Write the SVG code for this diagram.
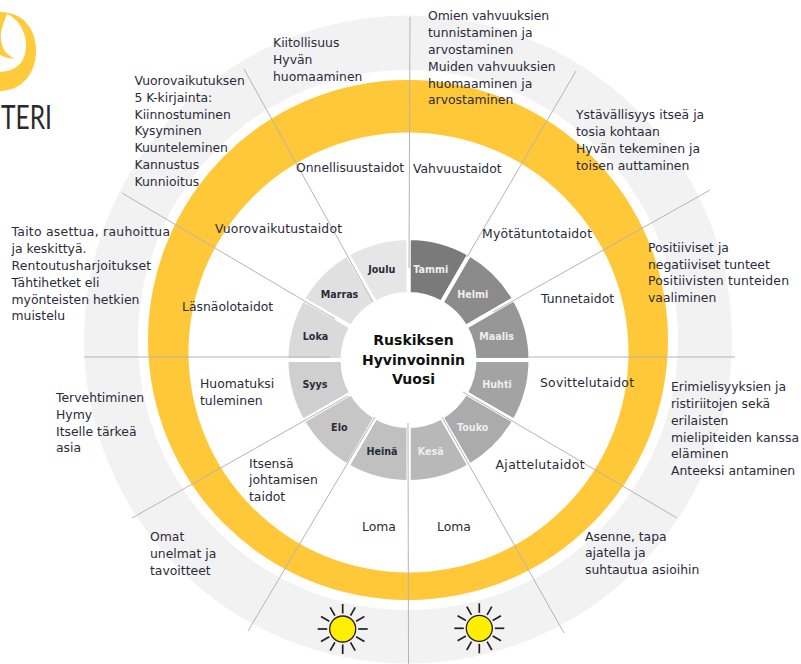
<svg xmlns="http://www.w3.org/2000/svg" width="801" height="664" viewBox="0 0 801 664">
<style>
text{font-family:"DejaVu Sans","Noto Sans",sans-serif;font-size:12.4px;fill:#2b2b3a}
.m{font-size:9.6px;font-weight:bold;text-anchor:middle;fill:#2b2b3a}
.w{fill:#eee}
.c{font-size:14px;font-weight:bold;text-anchor:middle;fill:#111}
.seg{stroke:#fff;stroke-width:4}
#connectors line{stroke:#b4b4b4;stroke-width:1}
.ray{stroke:#231f20;stroke-width:1.7;fill:none}
</style>
<defs>
<g id="sun">
<g class="ray">
<line x1="0" y1="-15.5" x2="0" y2="-25"/><line x1="0" y1="15.5" x2="0" y2="25"/><line x1="-15.5" y1="0" x2="-25" y2="0"/><line x1="15.5" y1="0" x2="25" y2="0"/>
<line x1="7.8" y1="-13.4" x2="12.5" y2="-21.7"/><line x1="13.4" y1="-7.8" x2="21.7" y2="-12.5"/><line x1="13.4" y1="7.8" x2="21.7" y2="12.5"/><line x1="7.8" y1="13.4" x2="12.5" y2="21.7"/>
<line x1="-7.8" y1="13.4" x2="-12.5" y2="21.7"/><line x1="-13.4" y1="7.8" x2="-21.7" y2="12.5"/><line x1="-13.4" y1="-7.8" x2="-21.7" y2="-12.5"/><line x1="-7.8" y1="-13.4" x2="-12.5" y2="-21.7"/>
</g>
<circle r="13" fill="#ffee00" stroke="#231f20" stroke-width="1.3"/>
</g>
</defs>
<rect width="801" height="664" fill="#fff"/>
<g id="logo">
<path d="M0 12C24 12 36 30 36 51C36 75 20 91 0 91L0 71.700C14 72 25 64 26 47C27 34 19 19 7 14C3 24 0 32 1 40C2 50 8 56 15 58.500C9 59 4 57 0 55Z" fill="#ffcb3a"/>
<text x="1" y="129" textLength="51" lengthAdjust="spacingAndGlyphs" style="font-family:'Lato','Open Sans',sans-serif;font-size:32px;fill:#2a2a2a">TERI</text>
</g>
<g id="outer-ring">
<path fill-rule="evenodd" fill="#f2f2f2" d="M84 339.500a324 324 0 1 0 648 0a324 324 0 1 0 -648 0ZM138 340a270 270 0 1 0 540 0a270 270 0 1 0 -540 0Z"/>
</g>
<g id="yellow-ring">
<path fill-rule="evenodd" fill="#ffc839" d="M148 340a260 260 0 1 0 520 0a260 260 0 1 0 -520 0ZM188.500 352.500a220 220 0 1 0 440 0a220 220 0 1 0 -440 0Z"/>
</g>
<g id="months">
<path class="seg" fill="#7a7a7a" d="M408.500 238A122 122 0 0 1 469.500 254.300L441.500 302.800A66 66 0 0 0 408.500 294Z"/>
<path class="seg" fill="#8b8b8b" d="M469.500 254.300A122 122 0 0 1 514.200 299L465.700 327A66 66 0 0 0 441.500 302.800Z"/>
<path class="seg" fill="#979797" d="M514.200 299A122 122 0 0 1 530.500 360L474.500 360A66 66 0 0 0 465.700 327Z"/>
<path class="seg" fill="#a3a3a3" d="M530.500 360A122 122 0 0 1 514.200 421L465.700 393A66 66 0 0 0 474.500 360Z"/>
<path class="seg" fill="#ababab" d="M514.200 421A122 122 0 0 1 469.500 465.700L441.500 417.200A66 66 0 0 0 465.700 393Z"/>
<path class="seg" fill="#b8b8b8" d="M469.500 465.700A122 122 0 0 1 408.500 482L408.500 426A66 66 0 0 0 441.500 417.200Z"/>
<path class="seg" fill="#c0c0c0" d="M408.500 482A122 122 0 0 1 347.500 465.700L375.500 417.200A66 66 0 0 0 408.500 426Z"/>
<path class="seg" fill="#c6c6c6" d="M347.500 465.700A122 122 0 0 1 302.800 421L351.300 393A66 66 0 0 0 375.500 417.200Z"/>
<path class="seg" fill="#cfcfcf" d="M302.800 421A122 122 0 0 1 286.500 360L342.500 360A66 66 0 0 0 351.300 393Z"/>
<path class="seg" fill="#dadada" d="M286.500 360A122 122 0 0 1 302.800 299L351.300 327A66 66 0 0 0 342.500 360Z"/>
<path class="seg" fill="#e0e0e0" d="M302.800 299A122 122 0 0 1 347.500 254.300L375.500 302.800A66 66 0 0 0 351.300 327Z"/>
<path class="seg" fill="#e6e6e6" d="M347.500 254.300A122 122 0 0 1 408.500 238L408.500 294A66 66 0 0 0 375.500 302.800Z"/>
<text class="m w" x="430.700" y="273">Tammi</text>
<text class="m w" x="472.700" y="297.700">Helmi</text>
<text class="m w" x="496.700" y="340">Maalis</text>
<text class="m w" x="497" y="388">Huhti</text>
<text class="m w" x="472.700" y="430.700">Touko</text>
<text class="m w" x="430.700" y="455">Kesä</text>
<text class="m" x="382" y="455">Heinä</text>
<text class="m" x="339.300" y="431">Elo</text>
<text class="m" x="315" y="388">Syys</text>
<text class="m" x="315.500" y="340">Loka</text>
<text class="m" x="339.500" y="297.700">Marras</text>
<text class="m" x="381.700" y="273">Joulu</text>
</g>
<g id="connectors">
<line x1="410" y1="17" x2="409" y2="268"/>
<line x1="408" y1="423" x2="408.500" y2="664"/>
<line x1="84" y1="357" x2="330" y2="357"/>
<line x1="529" y1="357" x2="735" y2="357"/>
<line x1="576" y1="71" x2="467" y2="257"/>
<line x1="710" y1="190" x2="493" y2="312"/>
<line x1="677" y1="518" x2="463" y2="392"/>
<line x1="564" y1="633" x2="442" y2="417"/>
<line x1="248" y1="631" x2="375" y2="417"/>
<line x1="132" y1="518" x2="348" y2="396"/>
<line x1="122" y1="193" x2="335" y2="319"/>
<line x1="244" y1="69" x2="373" y2="302"/>
</g>
<g id="center">
<text class="c" x="413.500" y="345">Ruskiksen</text>
<text class="c" x="413.500" y="364.500">Hyvinvoinnin</text>
<text class="c" x="413.500" y="384">Vuosi</text>
</g>
<use href="#sun" x="342.700" y="629"/>
<use href="#sun" x="479.300" y="628.300"/>
<g id="labels">
<text x="273" y="47">Kiitollisuus</text><text x="273" y="64">Hyvän</text><text x="273" y="81">huomaaminen</text>
<text x="134.500" y="85">Vuorovaikutuksen</text><text x="134.500" y="101.700">5 K-kirjainta:</text><text x="134.500" y="118.500">Kiinnostuminen</text><text x="134.500" y="135">Kysyminen</text><text x="134.500" y="152">Kuunteleminen</text><text x="134.500" y="168.600">Kannustus</text><text x="134.500" y="185.500">Kunnioitus</text>
<text x="11.500" y="236" textLength="158.500">Taito asettua, rauhoittua</text><text x="11.500" y="253">ja keskittyä.</text><text x="11.500" y="270" textLength="139.500">Rentoutusharjoitukset</text><text x="11.500" y="287">Tähtihetket eli</text><text x="11.500" y="303.500">myönteisten hetkien</text><text x="11.500" y="320">muistelu</text>
<text x="296" y="172">Onnellisuustaidot</text>
<text x="413" y="173">Vahvuustaidot</text>
<text x="215" y="233" textLength="127">Vuorovaikutustaidot</text>
<text x="182" y="311">Läsnäolotaidot</text>
<text x="428" y="20" textLength="121">Omien vahvuuksien</text><text x="428" y="37">tunnistaminen ja</text><text x="428" y="53.500">arvostaminen</text><text x="428" y="70.500">Muiden vahvuuksien</text><text x="428" y="87.500">huomaaminen ja</text><text x="428" y="104">arvostaminen</text>
<text x="576" y="119">Ystävällisyys itseä ja</text><text x="576" y="136">tosia kohtaan</text><text x="576" y="152.700">Hyvän tekeminen ja</text><text x="576" y="170">toisen auttaminen</text>
<text x="482" y="238" textLength="110">Myötätuntotaidot</text>
<text x="541" y="303">Tunnetaidot</text>
<text x="648" y="251.700">Positiiviset ja</text><text x="648" y="268.700">negatiiviset tunteet</text><text x="648" y="285" textLength="141">Positiivisten tunteiden</text><text x="648" y="302">vaaliminen</text>
<text x="540" y="386.700" textLength="94">Sovittelutaidot</text>
<text x="671" y="391">Erimielisyyksien ja</text><text x="671" y="408">ristiriitojen sekä</text><text x="671" y="424.600">erilaisten</text><text x="671" y="441.600" textLength="128">mielipiteiden kanssa</text><text x="671" y="458">eläminen</text><text x="671" y="475">Anteeksi antaminen</text>
<text x="495.500" y="469" textLength="89">Ajattelutaidot</text>
<text x="585" y="540.700">Asenne, tapa</text><text x="585" y="557">ajatella ja</text><text x="585" y="574">suhtautua asioihin</text>
<text x="437" y="531">Loma</text>
<text x="362" y="531">Loma</text>
<text x="200" y="387.700">Huomatuksi</text><text x="200" y="405">tuleminen</text>
<text x="56" y="402">Tervehtiminen</text><text x="56" y="418.700">Hymy</text><text x="56" y="435.500">Itselle tärkeä</text><text x="56" y="452">asia</text>
<text x="249" y="467.700">Itsensä</text><text x="249" y="484">johtamisen</text><text x="249" y="501">taidot</text>
<text x="150" y="541">Omat</text><text x="150" y="558">unelmat ja</text><text x="150" y="574.500">tavoitteet</text>
</g>
</svg>
